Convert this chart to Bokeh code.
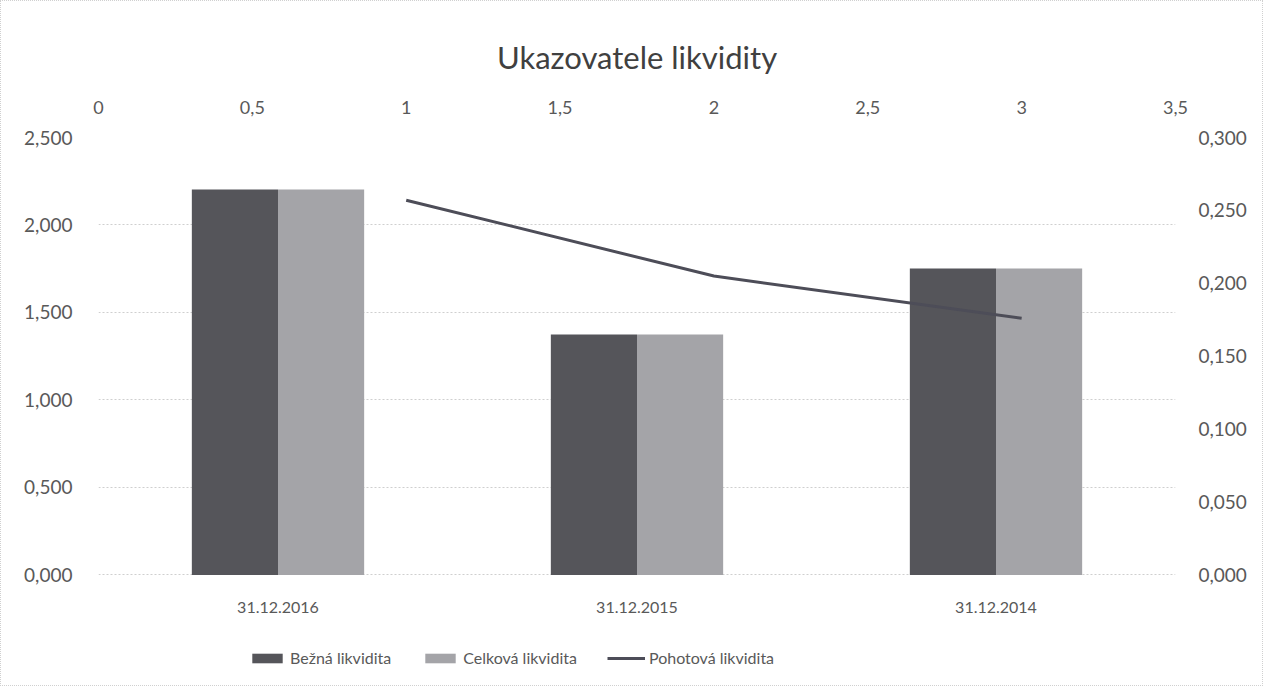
from bokeh.plotting import figure
from bokeh.models import (Range1d, LinearAxis, FixedTicker, Legend,
                          LegendItem, ColumnDataSource)
from bokeh.core.properties import value
from bokeh.transform import dodge
from bokeh.embed import file_html
from bokeh.resources import INLINE

# ---- data ----
categories = ["31.12.2016", "31.12.2015", "31.12.2014"]
bezna = [2.203, 1.374, 1.751]
celkova = [2.203, 1.374, 1.751]
pohotova_x = [1, 2, 3]
pohotova = [0.257, 0.205, 0.176]

left_ticks = [0, 0.5, 1.0, 1.5, 2.0, 2.5]
left_labels = ["0,000", "0,500", "1,000", "1,500", "2,000", "2,500"]
right_ticks = [0, 0.05, 0.10, 0.15, 0.20, 0.25, 0.30]
right_labels = ["0,000", "0,050", "0,100", "0,150", "0,200", "0,250", "0,300"]
top_ticks = [0, 0.5, 1, 1.5, 2, 2.5, 3, 3.5]
top_labels = ["0", "0,5", "1", "1,5", "2", "2,5", "3", "3,5"]

FONT = "Lato"
TXT = "#595959"

# category slots: each category occupies one unit, centred at index + 0.5
cat_pos = [i + 0.5 for i in range(len(categories))]

src = ColumnDataSource(dict(pos=cat_pos, bezna=bezna, celkova=celkova,
                            cat=categories, base=[0] * len(categories)))
line_src = ColumnDataSource(dict(x=pohotova_x, y=pohotova))

# frame extends below zero to hold the category labels and the legend
Y_MAX = 2.5
Y_MIN = -0.643
R_MAX = 0.3
R_MIN = Y_MIN * R_MAX / Y_MAX

p = figure(width=1263, height=686, output_backend="svg", toolbar_location=None,
           x_range=Range1d(0, len(categories)), x_axis_location=None,
           y_range=Range1d(Y_MIN, Y_MAX), title="Ukazovatele likvidity")
p.styles = {"border": "1px dotted #d0d0d0"}
p.extra_y_ranges = {"right": Range1d(R_MIN, R_MAX)}
p.extra_x_ranges = {"top": Range1d(0, 3.5)}
p.min_border_left = 97
p.min_border_right = 89
p.min_border_top = 136
p.min_border_bottom = 0
p.outline_line_color = None
p.background_fill_color = "white"
p.border_fill_color = "white"

# title
p.title.align = "center"
p.title.text_font = FONT
p.title.text_font_size = "31px"
p.title.text_font_style = "normal"
p.title.text_color = "#404040"
p.title.standoff = 43

# bars
r1 = p.vbar(x=dodge("pos", -0.12), top="bezna", width=0.24,
            source=src, fill_color="#55555a", line_color=None)
r2 = p.vbar(x=dodge("pos", 0.12), top="celkova", width=0.24,
            source=src, fill_color="#a4a4a8", line_color=None)
r3 = p.line(x="x", y="y", source=line_src, x_range_name="top", y_range_name="right",
            line_color="#4d4d58", line_width=3)

# category labels under the zero line
p.text(x="pos", y="base", text="cat", source=src, y_offset=33,
       text_align="center", text_baseline="middle", text_font=value(FONT),
       text_font_size="16px", text_color=TXT)

def style_axis(ax, size="19px"):
    ax.axis_line_color = None
    ax.major_tick_line_color = None
    ax.minor_tick_line_color = None
    ax.major_label_text_font = FONT
    ax.major_label_text_font_size = size
    ax.major_label_text_color = TXT

# left axis
la = p.yaxis[0]
la.ticker = FixedTicker(ticks=left_ticks)
la.major_label_overrides = {t: s for t, s in zip(left_ticks, left_labels)}
la.major_label_standoff = 20
style_axis(la)

# right axis
ra = LinearAxis(y_range_name="right", ticker=FixedTicker(ticks=right_ticks))
ra.major_label_overrides = {t: s for t, s in zip(right_ticks, right_labels)}
ra.major_label_standoff = 17
style_axis(ra)
p.add_layout(ra, "right")

# top axis
ta = LinearAxis(x_range_name="top", ticker=FixedTicker(ticks=top_ticks))
ta.major_label_overrides = {t: s for t, s in zip(top_ticks, top_labels)}
ta.major_label_standoff = 18
style_axis(ta, "18px")
p.add_layout(ta, "above")

# grid
p.xgrid.visible = False
p.ygrid.ticker = FixedTicker(ticks=left_ticks)
p.ygrid.grid_line_color = "#cfcfcf"
p.ygrid.grid_line_dash = "2 2"
p.ygrid.grid_line_width = 1

# legend (inside the extended frame, below the category labels)
legend = Legend(items=[LegendItem(label="Bežná likvidita", renderers=[r1]),
                       LegendItem(label="Celková likvidita", renderers=[r2]),
                       LegendItem(label="Pohotová likvidita", renderers=[r3])],
                orientation="horizontal", location=(150, 20),
                glyph_width=38, glyph_height=12, label_standoff=4, spacing=30,
                padding=0, margin=0, border_line_color=None,
                background_fill_alpha=0, label_text_font=FONT,
                label_text_font_size="16px", label_text_color=TXT)
p.add_layout(legend, "center")

open("out.html", "w").write(file_html(p, INLINE))
